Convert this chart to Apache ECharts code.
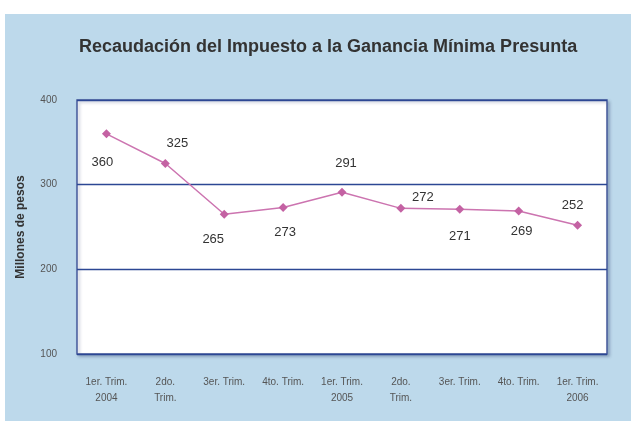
<!DOCTYPE html>
<html>
<head>
<meta charset="utf-8">
<script src="https://cdn.jsdelivr.net/npm/echarts@6/dist/echarts.min.js"></script>
<style>
  html, body { margin: 0; padding: 0; background: #fff; }
  #chart { width: 631px; height: 421px; }
</style>
</head>
<body>
<div id="chart"></div>
<script>
// datos
var categorias = ['1er. Trim.\n2004', '2do.\nTrim.', '3er. Trim.', '4to. Trim.', '1er. Trim.\n2005',
  '2do.\nTrim.', '3er. Trim.', '4to. Trim.', '1er. Trim.\n2006'];
var recaudacion = [360, 325, 265, 273, 291, 272, 271, 269, 252];
var ejeY = [100, 200, 300, 400];

// donde va cada etiqueta (arriba / abajo) y su corrimiento
var posEtiqueta = ['bottom', 'top', 'bottom', 'bottom', 'top', 'top', 'bottom', 'bottom', 'top'];
var despEtiqueta = [[-4, 10], [12, -1], [-11, 6], [2, 6], [4, -10], [22, 8], [0, 8], [3, 2], [-5, -1]];

var chart = echarts.init(document.getElementById('chart'));

var puntos = recaudacion.map(function (v, i) {
  return {
    value: v,
    label: { position: posEtiqueta[i], offset: despEtiqueta[i] }
  };
});

chart.setOption({
  backgroundColor: '#fff',
  textStyle: { fontFamily: 'Liberation Sans, Arial, sans-serif' },
  graphic: {
    elements: [{
      type: 'rect',
      z: -10,
      shape: { x: 5, y: 14, width: 626, height: 407 },
      style: { fill: '#bdd9eb' }
    }]
  },
  title: {
    text: 'Recaudación del Impuesto a la Ganancia Mínima Presunta',
    left: 74,
    top: 33,
    textStyle: { fontSize: 18, fontWeight: 'bold', color: '#333' }
  },
  grid: {
    left: 77, right: 24, top: 100, bottom: 67,
    show: true,
    backgroundColor: '#fff',
    borderColor: '#44589a',
    borderWidth: 1.5,
    shadowColor: 'rgba(60,80,120,0.35)',
    shadowBlur: 3,
    shadowOffsetX: 2,
    shadowOffsetY: 2
  },
  xAxis: {
    type: 'category',
    data: categorias,
    boundaryGap: true,
    axisLine: { show: false },
    axisTick: { show: false },
    axisLabel: {
      color: '#555',
      fontSize: 10,
      lineHeight: 16,
      margin: 20,
      interval: 0,
      fontFamily: 'Liberation Sans Narrow, Liberation Sans, sans-serif'
    }
  },
  yAxis: {
    type: 'value',
    min: ejeY[0],
    max: ejeY[ejeY.length - 1],
    interval: 100,
    name: 'Millones de pesos',
    nameLocation: 'middle',
    nameGap: 50,
    nameTextStyle: { fontSize: 12, fontWeight: 'bold', color: '#333' },
    axisLine: { show: false },
    axisTick: { show: false },
    axisLabel: {
      color: '#555',
      fontSize: 10,
      margin: 20,
      fontFamily: 'Liberation Sans Narrow, Liberation Sans, sans-serif'
    },
    splitLine: { lineStyle: { color: '#2c4794', width: 1.4 } }
  },
  series: [{
    type: 'line',
    data: puntos,
    symbol: 'diamond',
    symbolSize: 9,
    itemStyle: { color: '#c462a3' },
    lineStyle: { color: '#cc74b0', width: 1.5 },
    label: {
      show: true,
      fontSize: 13,
      color: '#333',
      distance: 8
    },
    animation: false
  }]
});
</script>
</body>
</html>
